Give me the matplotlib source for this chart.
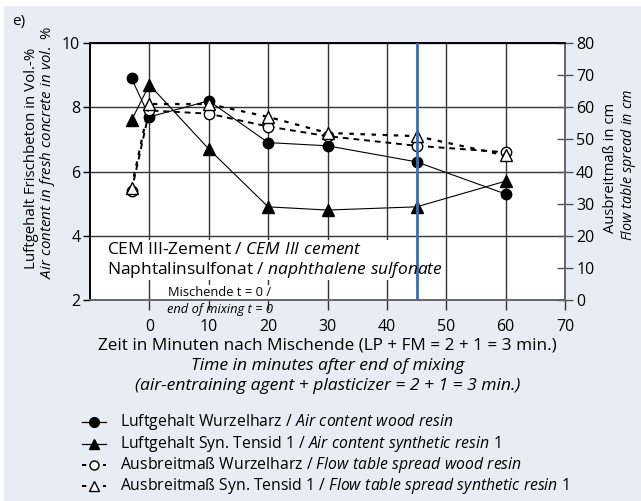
import matplotlib
matplotlib.use("Agg")
import matplotlib.pyplot as plt
from matplotlib.patches import Rectangle
from matplotlib.lines import Line2D

plt.rcParams['font.family'] = ['Open Sans', 'DejaVu Sans']
plt.rcParams['mathtext.fontset'] = 'custom'
plt.rcParams['mathtext.rm'] = 'Open Sans'
plt.rcParams['mathtext.it'] = 'Open Sans:italic'

# ---- data ----
times = [-3, 0, 10, 20, 30, 45, 60]
air_wood = [8.9, 7.7, 8.2, 6.9, 6.8, 6.3, 5.3]
air_syn = [7.6, 8.7, 6.7, 4.9, 4.8, 4.9, 5.7]
flow_wood = [34, 59, 58, 54, 51, 48, 46]
flow_syn = [35, 61, 61, 57, 52, 51, 45]
x_ticks = [0, 10, 20, 30, 40, 50, 60, 70]
left_ticks = [2, 4, 6, 8, 10]
right_ticks = [0, 10, 20, 30, 40, 50, 60, 70, 80]
mix_end_mark = 45

labels = [
    r"Luftgehalt Wurzelharz / $\it{Air\ content\ wood\ resin}$",
    r"Luftgehalt Syn. Tensid 1 / $\it{Air\ content\ synthetic\ resin\ 1}$",
    r"Ausbreitmaß Wurzelharz / $\it{Flow\ table\ spread\ wood\ resin}$",
    r"Ausbreitmaß Syn. Tensid 1 / $\it{Flow\ table\ spread\ synthetic\ resin\ 1}$",
]

W, H = 641, 501
fig = plt.figure(figsize=(W / 100, H / 100), dpi=100)
fig.patch.set_facecolor('white')
fig.add_artist(Rectangle((4 / W, 0), 1, 1 - 6 / H, transform=fig.transFigure,
                         facecolor='#e8edf5', edgecolor='none', zorder=-10))

def px(x, y):
    return x / W, 1 - y / H

L, R, T, B = 90, 565, 43, 300
ax = fig.add_axes([L / W, 1 - B / H, (R - L) / W, (B - T) / H])
ax.set_facecolor('white')
ax.set_xlim(-10, 70)
ax.set_ylim(2, 10)
ax2 = ax.twinx()
ax2.set_ylim(0, 80)

ax.set_axisbelow(True)
ax.grid(True, color='#333333', lw=1.0)
ax.set_xticks(x_ticks)
ax.set_yticks(left_ticks)
ax2.set_yticks(right_ticks)

ax.tick_params(axis='x', direction='out', length=7, width=1, pad=7,
               labelsize=11.5, color='#333333')
ax.tick_params(axis='y', direction='out', length=5, width=1, pad=2,
               labelsize=11.5)
ax2.tick_params(axis='y', direction='inout', length=12, width=1, pad=2,
                labelsize=11.5, color='#555555')
for s in ['left', 'top']:
    ax.spines[s].set_color('#111111')
for s in ['bottom', 'right']:
    ax2.spines[s].set_color('#666666')
    ax.spines[s].set_color('#666666')
for a in (ax, ax2):
    for s in a.spines.values():
        s.set_linewidth(1.2)

# white text box covering grid
ax.add_patch(Rectangle((0.0105, 0.078), 0.733, 0.156, transform=ax.transAxes,
                       facecolor='white', edgecolor='none', zorder=1))

# series
ax.plot(times, air_wood, color='black', lw=0.8, marker='o', ms=7.5,
        mfc='black', mec='black', zorder=4)
ax.plot(times, air_syn, color='black', lw=0.8, marker='^', ms=8,
        mfc='black', mec='black', zorder=4)
ax2.plot(times, flow_wood, color='black', lw=1.4, ls=(0, (3, 2.5)), marker='o',
         ms=7.5, mfc='white', mec='black', mew=1.0, zorder=4)
ax2.plot(times, flow_syn, color='black', lw=1.6, ls=(0, (2, 3)), marker='^',
         ms=8, mfc='white', mec='black', mew=1.0, zorder=4)
ax2.axvline(mix_end_mark, color='#3b6cb7', lw=2, zorder=10)

# axis labels
fig.text(*px(32, 158), "Luftgehalt Frischbeton in Vol.-%", rotation=90,
         ha='center', va='center', fontsize=10.8)
fig.text(*px(48, 152), r"$\it{Air\ content\ in\ fresh\ concrete\ in\ vol.\ \%}$",
         rotation=90, ha='center', va='center', fontsize=10.8)
fig.text(*px(611, 168), "Ausbreitmaß in cm", rotation=90,
         ha='center', va='center', fontsize=10.6)
fig.text(*px(628, 165), r"$\it{Flow\ table\ spread\ in\ cm}$", rotation=90,
         ha='center', va='center', fontsize=10.3)

cx = (L + R) / 2
fig.text(*px(cx, 346), "Zeit in Minuten nach Mischende (LP + FM = 2 + 1 = 3 min.)",
         ha='center', va='center', fontsize=12.3)
fig.text(*px(cx, 366), "Time in minutes after end of mixing",
         ha='center', va='center', fontsize=12.6, style='italic')
fig.text(*px(cx, 386), "(air-entraining agent + plasticizer = 2 + 1 = 3 min.)",
         ha='center', va='center', fontsize=12.6, style='italic')

fig.text(*px(107, 250), r"CEM III-Zement / $\it{CEM\ III\ cement}$",
         ha='left', va='center', fontsize=12.5)
fig.text(*px(107, 270), r"Naphtalinsulfonat / $\it{naphthalene\ sulfonate}$",
         ha='left', va='center', fontsize=12.5)
fig.text(*px(220, 292), "Mischende t = 0 /", ha='center', va='center',
         fontsize=9.3, bbox=dict(facecolor='white', edgecolor='none', pad=0.3))
fig.text(*px(220, 309), "end of mixing t = 0", ha='center', va='center',
         fontsize=9.3, style='italic')

fig.text(*px(12, 21), "e)", ha='left', va='center', fontsize=11)

# legend (drawn manually)
styles = [
    dict(lw=0.9, ls='-', marker='o', ms=7, mfc='black'),
    dict(lw=0.9, ls='-', marker='^', ms=7.5, mfc='black'),
    dict(lw=1.4, ls=(0, (2.2, 3.2)), marker='o', ms=6.5, mfc='white'),
    dict(lw=1.4, ls=(0, (2.2, 3.2)), marker='^', ms=7, mfc='white'),
]
rows = [422, 443.5, 465, 486]
for lab, st, yy in zip(labels, styles, rows):
    x0, x1 = px(82, yy)[0], px(106, yy)[0]
    y0 = px(0, yy)[1]
    fig.add_artist(Line2D([x0, (x0 + x1) / 2, x1], [y0, y0, y0],
                          transform=fig.transFigure, color='black',
                          mec='black', markevery=[1], **st))
    fig.text(*px(120, yy), lab, ha='left', va='center', fontsize=11.3)

fig.savefig('out.png', dpi=100, facecolor=fig.get_facecolor())
